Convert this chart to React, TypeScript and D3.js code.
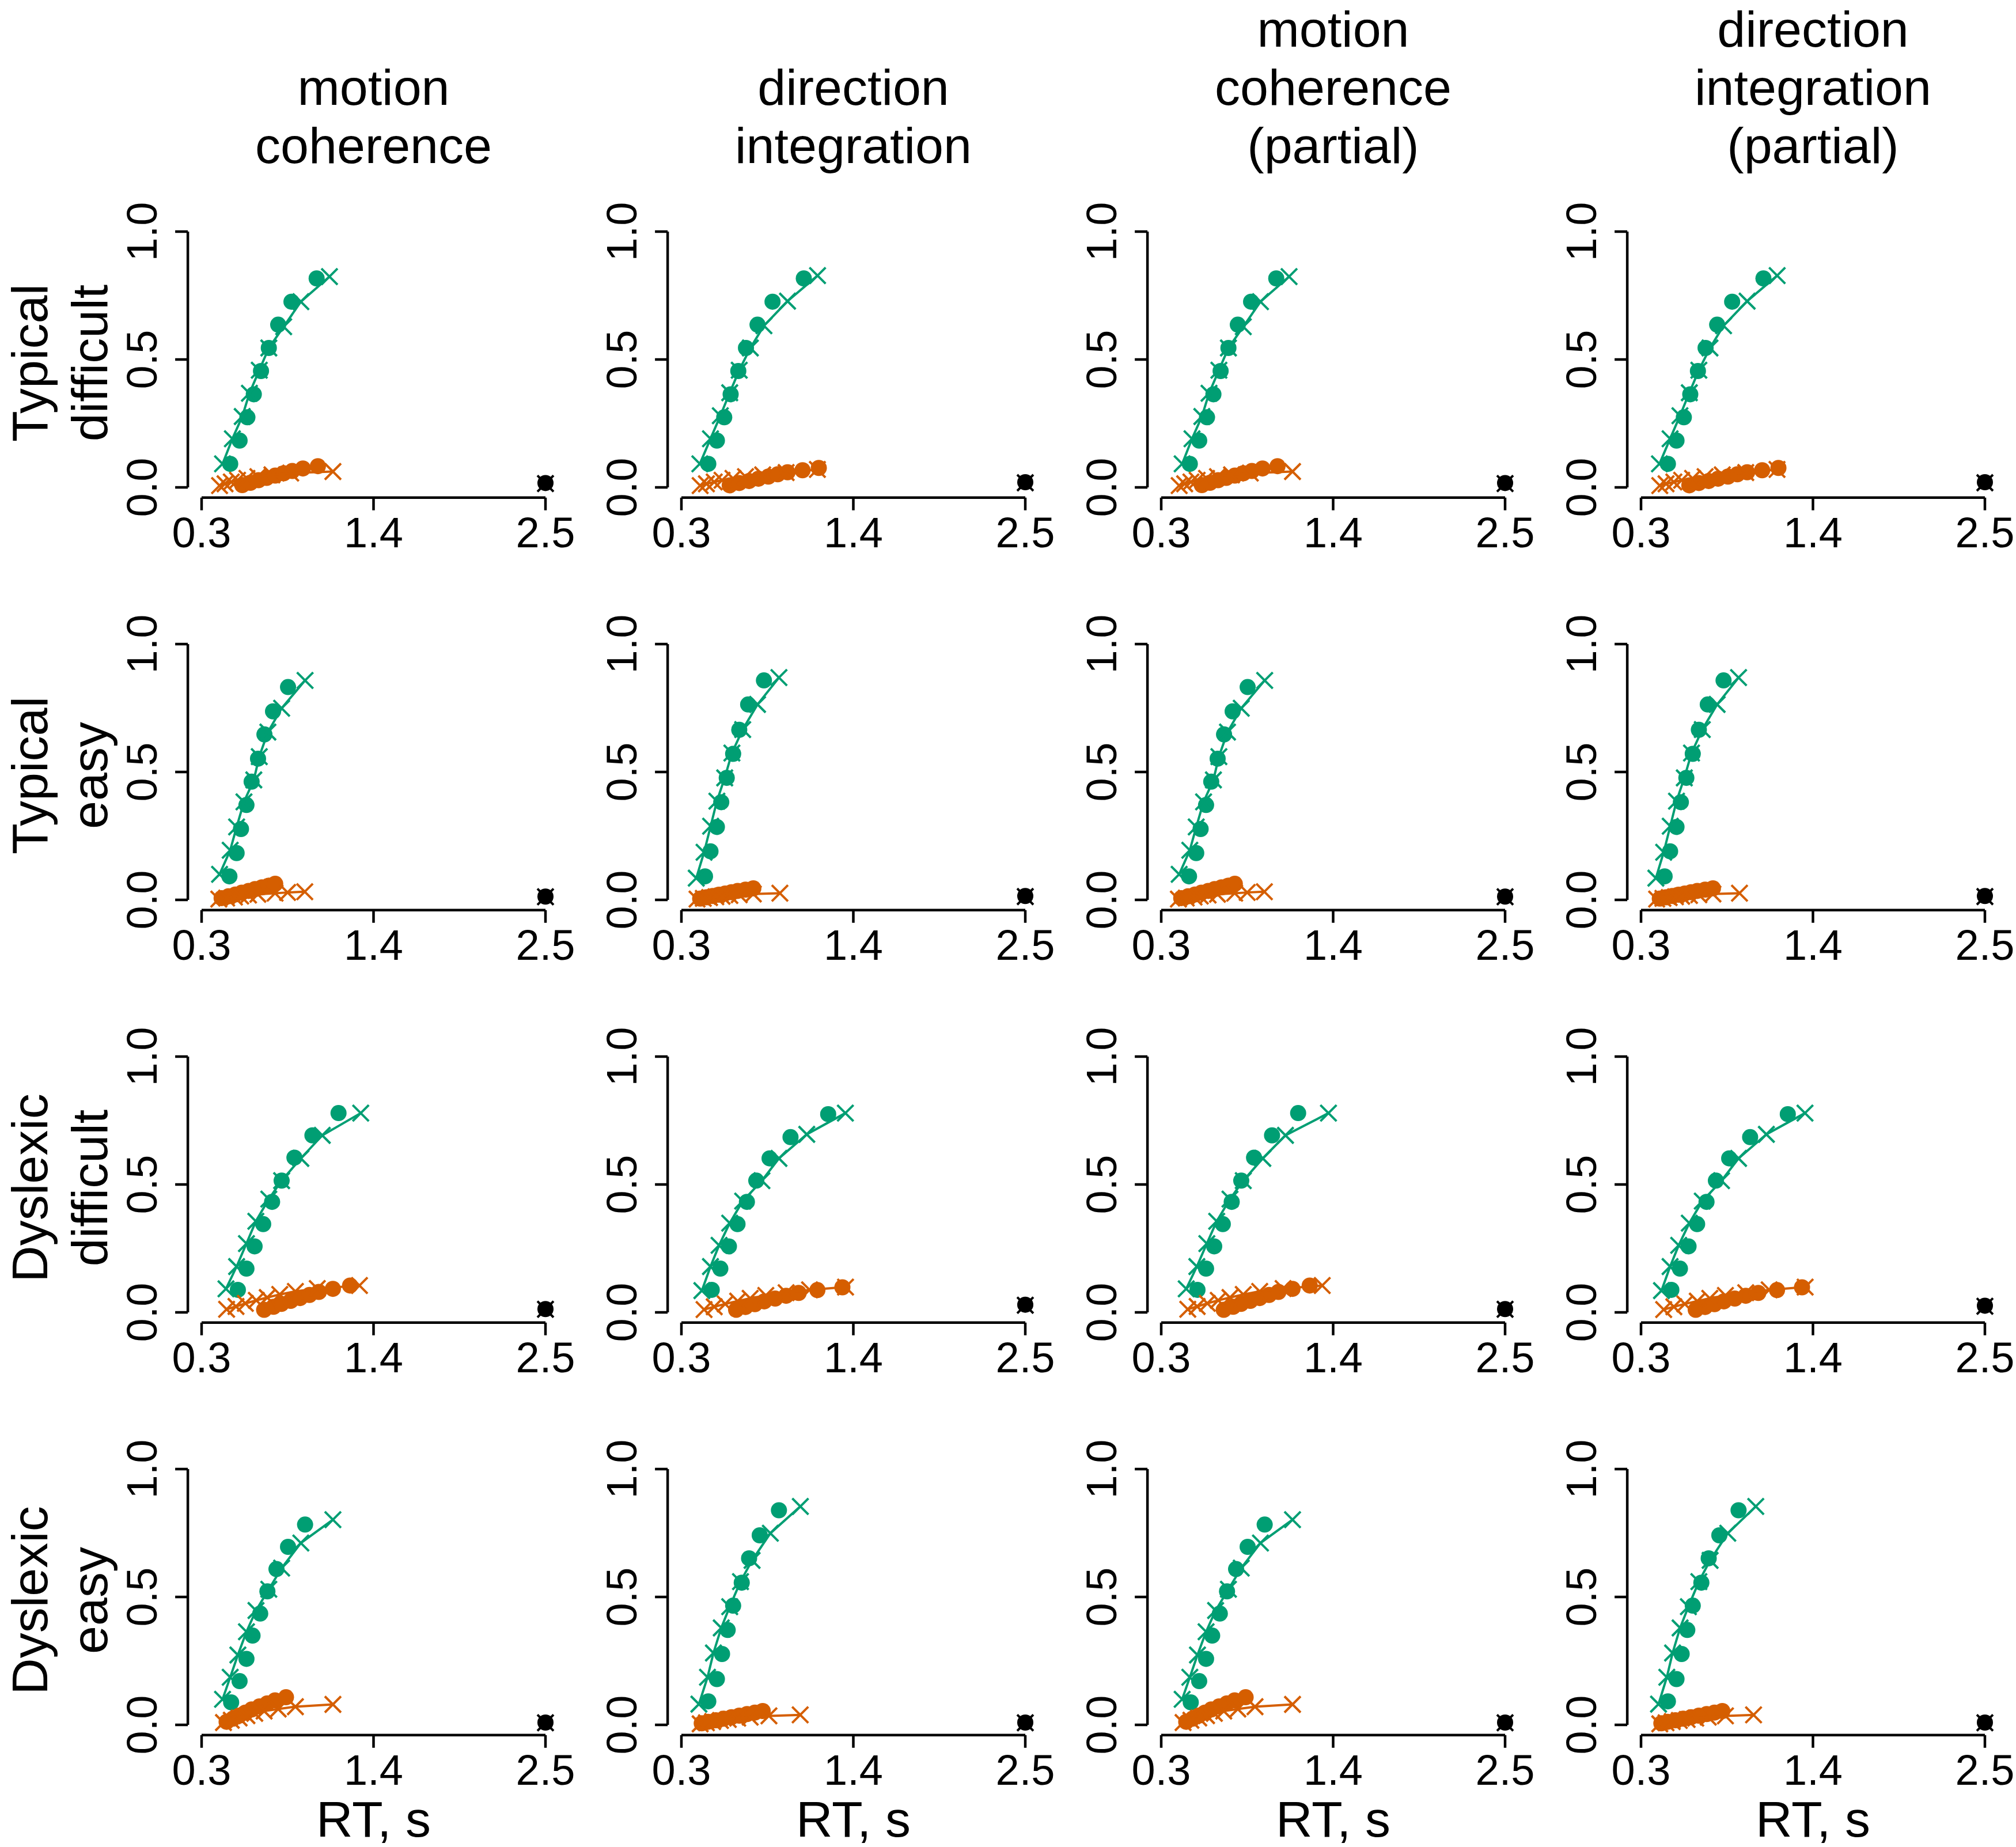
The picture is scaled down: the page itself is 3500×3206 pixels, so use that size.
import React from 'react';
import * as d3 from 'd3';

type Pt = [number, number];

const W = 3500;
const H = 3206;
const GREEN = '#009E73';
const ORANGE = '#D55E00';
const FONT = '"Liberation Sans", Arial, Helvetica, sans-serif';

const rowLabels: string[][] = [
  ['Typical', 'difficult'],
  ['Typical', 'easy'],
  ['Dyslexic', 'difficult'],
  ['Dyslexic', 'easy'],
];
const colTitles: string[][] = [
  ['motion', 'coherence'],
  ['direction', 'integration'],
  ['motion', 'coherence', '(partial)'],
  ['direction', 'integration', '(partial)'],
];
const xTicks = [0.3, 1.4, 2.5];
const yTicks = [0, 0.5, 1];
const xLabel = 'RT, s';
const deadline = 2.5;

// ---------- Typical, difficult ----------
const TD_MC_corrObs: Pt[] = [[0.483,0.092],[0.543,0.183],[0.593,0.274],[0.634,0.364],[0.680,0.455],[0.730,0.545],[0.790,0.636],[0.875,0.726],[1.036,0.817]];
const TD_MC_corrMod: Pt[] = [[0.434,0.092],[0.497,0.190],[0.560,0.277],[0.606,0.368],[0.669,0.458],[0.730,0.545],[0.825,0.628],[0.935,0.726],[1.118,0.824]];
const TD_MC_errObs: Pt[] = [[0.560,0.009],[0.612,0.018],[0.664,0.028],[0.716,0.037],[0.771,0.046],[0.825,0.055],[0.880,0.064],[0.948,0.074],[1.044,0.083]];
const TD_MC_errMod: Pt[] = [[0.415,0.007],[0.450,0.014],[0.490,0.021],[0.530,0.028],[0.590,0.035],[0.660,0.042],[0.750,0.049],[0.870,0.056],[1.140,0.062]];
const TD_MC_noResp: Pt = [0.017, 0.015];

const TD_DI_corrObs: Pt[] = [[0.472,0.092],[0.527,0.183],[0.574,0.274],[0.615,0.364],[0.664,0.455],[0.713,0.545],[0.787,0.636],[0.883,0.726],[1.083,0.817]];
const TD_DI_corrMod: Pt[] = [[0.418,0.092],[0.486,0.190],[0.549,0.280],[0.609,0.370],[0.670,0.458],[0.741,0.545],[0.828,0.632],[0.979,0.728],[1.171,0.828]];
const TD_DI_errObs: Pt[] = [[0.609,0.008],[0.670,0.017],[0.733,0.025],[0.793,0.034],[0.856,0.042],[0.916,0.051],[0.979,0.059],[1.075,0.067],[1.179,0.076]];
const TD_DI_errMod: Pt[] = [[0.420,0.007],[0.460,0.014],[0.510,0.021],[0.560,0.028],[0.630,0.035],[0.710,0.042],[0.820,0.049],[0.970,0.058],[1.170,0.070]];
const TD_DI_noResp: Pt = [0.020, 0.018];

// ---------- Typical, easy ----------
const TE_MC_corrObs: Pt[] = [[0.478,0.092],[0.524,0.183],[0.552,0.277],[0.587,0.371],[0.620,0.462],[0.661,0.552],[0.702,0.647],[0.757,0.737],[0.853,0.832]];
const TE_MC_corrMod: Pt[] = [[0.415,0.100],[0.483,0.194],[0.524,0.285],[0.571,0.383],[0.634,0.469],[0.669,0.560],[0.724,0.656],[0.812,0.749],[0.962,0.858]];
const TE_MC_errObs: Pt[] = [[0.428,0.007],[0.472,0.014],[0.516,0.021],[0.557,0.028],[0.601,0.035],[0.642,0.042],[0.686,0.049],[0.730,0.056],[0.771,0.063]];
const TE_MC_errMod: Pt[] = [[0.410,0.003],[0.460,0.007],[0.510,0.011],[0.550,0.015],[0.600,0.019],[0.660,0.022],[0.770,0.026],[0.850,0.029],[0.960,0.032]];
const TE_MC_noResp: Pt = [0.013, 0.012];

const TE_DI_corrObs: Pt[] = [[0.451,0.092],[0.486,0.190],[0.527,0.285],[0.555,0.382],[0.590,0.477],[0.631,0.571],[0.670,0.665],[0.727,0.764],[0.828,0.858]];
const TE_DI_corrMod: Pt[] = [[0.395,0.085],[0.445,0.186],[0.487,0.288],[0.527,0.386],[0.577,0.477],[0.623,0.574],[0.692,0.666],[0.787,0.764],[0.924,0.869]];
const TE_DI_errObs: Pt[] = [[0.420,0.005],[0.460,0.010],[0.500,0.015],[0.540,0.020],[0.580,0.025],[0.620,0.030],[0.660,0.035],[0.710,0.040],[0.760,0.045]];
const TE_DI_errMod: Pt[] = [[0.400,0.003],[0.440,0.006],[0.480,0.009],[0.520,0.012],[0.560,0.014],[0.610,0.017],[0.670,0.020],[0.760,0.023],[0.930,0.026]];
const TE_DI_noResp: Pt = [0.015, 0.013];

// ---------- Dyslexic, difficult ----------
const DD_MC_corrObs: Pt[] = [[0.532,0.088],[0.587,0.171],[0.639,0.258],[0.694,0.345],[0.751,0.432],[0.812,0.515],[0.894,0.605],[1.009,0.692],[1.176,0.779]];
const DD_MC_corrMod: Pt[] = [[0.456,0.092],[0.524,0.179],[0.587,0.269],[0.647,0.356],[0.730,0.443],[0.812,0.515],[0.935,0.602],[1.072,0.692],[1.318,0.779]];
const DD_MC_errObs: Pt[] = [[0.700,0.010],[0.760,0.022],[0.810,0.033],[0.870,0.045],[0.930,0.056],[0.990,0.068],[1.050,0.080],[1.140,0.092],[1.250,0.105]];
const DD_MC_errMod: Pt[] = [[0.460,0.012],[0.520,0.023],[0.580,0.035],[0.650,0.047],[0.720,0.058],[0.800,0.070],[0.900,0.082],[1.040,0.093],[1.310,0.105]];
const DD_MC_noResp: Pt = [0.013, 0.012];

const DD_DI_corrObs: Pt[] = [[0.494,0.088],[0.549,0.171],[0.604,0.258],[0.659,0.345],[0.719,0.432],[0.779,0.515],[0.864,0.602],[0.998,0.685],[1.239,0.775]];
const DD_DI_corrMod: Pt[] = [[0.431,0.085],[0.486,0.179],[0.541,0.262],[0.609,0.349],[0.692,0.435],[0.815,0.515],[0.924,0.602],[1.102,0.696],[1.349,0.779]];
const DD_DI_errObs: Pt[] = [[0.650,0.010],[0.710,0.021],[0.770,0.032],[0.830,0.043],[0.900,0.054],[0.970,0.065],[1.050,0.076],[1.170,0.087],[1.330,0.098]];
const DD_DI_errMod: Pt[] = [[0.445,0.011],[0.510,0.022],[0.580,0.033],[0.660,0.044],[0.740,0.055],[0.840,0.066],[0.970,0.077],[1.120,0.088],[1.350,0.099]];
const DD_DI_noResp: Pt = [0.030, 0.028];

// ---------- Dyslexic, easy ----------
const DE_MC_corrObs: Pt[] = [[0.489,0.088],[0.543,0.171],[0.587,0.258],[0.626,0.349],[0.675,0.435],[0.721,0.522],[0.779,0.609],[0.853,0.696],[0.962,0.783]];
const DE_MC_corrMod: Pt[] = [[0.434,0.100],[0.483,0.186],[0.532,0.273],[0.587,0.364],[0.648,0.447],[0.730,0.530],[0.812,0.613],[0.935,0.711],[1.140,0.802]];
const DE_MC_errObs: Pt[] = [[0.460,0.012],[0.500,0.024],[0.540,0.036],[0.580,0.048],[0.620,0.060],[0.670,0.072],[0.720,0.084],[0.770,0.096],[0.840,0.108]];
const DE_MC_errMod: Pt[] = [[0.440,0.009],[0.490,0.018],[0.540,0.027],[0.590,0.036],[0.640,0.045],[0.700,0.054],[0.790,0.062],[0.900,0.071],[1.140,0.080]];
const DE_MC_noResp: Pt = [0.009, 0.008];

const DE_DI_corrObs: Pt[] = [[0.472,0.092],[0.527,0.179],[0.560,0.277],[0.596,0.371],[0.631,0.466],[0.686,0.556],[0.733,0.651],[0.801,0.741],[0.924,0.839]];
const DE_DI_corrMod: Pt[] = [[0.412,0.081],[0.467,0.186],[0.505,0.281],[0.555,0.379],[0.609,0.462],[0.678,0.560],[0.752,0.643],[0.869,0.749],[1.061,0.854]];
const DE_DI_errObs: Pt[] = [[0.430,0.006],[0.470,0.012],[0.520,0.018],[0.570,0.024],[0.620,0.030],[0.670,0.036],[0.720,0.042],[0.770,0.048],[0.820,0.054]];
const DE_DI_errMod: Pt[] = [[0.420,0.004],[0.460,0.008],[0.500,0.013],[0.550,0.017],[0.600,0.021],[0.660,0.026],[0.740,0.030],[0.860,0.035],[1.060,0.039]];
const DE_DI_noResp: Pt = [0.009, 0.008];

// ---------- partial-model fits (observed data shared with full panels) ----------
const DD_MC_P_corrMod: Pt[] = [[0.460,0.092],[0.528,0.179],[0.592,0.269],[0.655,0.356],[0.740,0.443],[0.825,0.515],[0.950,0.602],[1.095,0.692],[1.370,0.779]];
const DD_MC_P_errMod: Pt[] = [[0.470,0.012],[0.530,0.023],[0.595,0.035],[0.665,0.047],[0.740,0.058],[0.825,0.070],[0.930,0.082],[1.080,0.093],[1.330,0.105]];
const DD_MC_P_noResp: Pt = [0.026, 0.024];
const DE_DI_P_corrMod: Pt[] = [[0.412,0.081],[0.465,0.186],[0.502,0.281],[0.550,0.379],[0.603,0.462],[0.670,0.560],[0.742,0.643],[0.855,0.749],[1.034,0.854]];
const DE_DI_P_errMod: Pt[] = [[0.420,0.004],[0.460,0.008],[0.500,0.013],[0.545,0.017],[0.595,0.021],[0.650,0.026],[0.730,0.030],[0.840,0.035],[1.020,0.039]];

type PanelData = { corrObs: Pt[]; corrMod: Pt[]; errObs: Pt[]; errMod: Pt[]; noResp: Pt };

const panels: PanelData[][] = [
  [
    { corrObs: TD_MC_corrObs, corrMod: TD_MC_corrMod, errObs: TD_MC_errObs, errMod: TD_MC_errMod, noResp: TD_MC_noResp },
    { corrObs: TD_DI_corrObs, corrMod: TD_DI_corrMod, errObs: TD_DI_errObs, errMod: TD_DI_errMod, noResp: TD_DI_noResp },
    { corrObs: TD_MC_corrObs, corrMod: TD_MC_corrMod, errObs: TD_MC_errObs, errMod: TD_MC_errMod, noResp: TD_MC_noResp },
    { corrObs: TD_DI_corrObs, corrMod: TD_DI_corrMod, errObs: TD_DI_errObs, errMod: TD_DI_errMod, noResp: TD_DI_noResp },
  ],
  [
    { corrObs: TE_MC_corrObs, corrMod: TE_MC_corrMod, errObs: TE_MC_errObs, errMod: TE_MC_errMod, noResp: TE_MC_noResp },
    { corrObs: TE_DI_corrObs, corrMod: TE_DI_corrMod, errObs: TE_DI_errObs, errMod: TE_DI_errMod, noResp: TE_DI_noResp },
    { corrObs: TE_MC_corrObs, corrMod: TE_MC_corrMod, errObs: TE_MC_errObs, errMod: TE_MC_errMod, noResp: TE_MC_noResp },
    { corrObs: TE_DI_corrObs, corrMod: TE_DI_corrMod, errObs: TE_DI_errObs, errMod: TE_DI_errMod, noResp: TE_DI_noResp },
  ],
  [
    { corrObs: DD_MC_corrObs, corrMod: DD_MC_corrMod, errObs: DD_MC_errObs, errMod: DD_MC_errMod, noResp: DD_MC_noResp },
    { corrObs: DD_DI_corrObs, corrMod: DD_DI_corrMod, errObs: DD_DI_errObs, errMod: DD_DI_errMod, noResp: DD_DI_noResp },
    { corrObs: DD_MC_corrObs, corrMod: DD_MC_P_corrMod, errObs: DD_MC_errObs, errMod: DD_MC_P_errMod, noResp: DD_MC_noResp },
    { corrObs: DD_DI_corrObs, corrMod: DD_DI_corrMod, errObs: DD_DI_errObs, errMod: DD_DI_errMod, noResp: DD_MC_P_noResp },
  ],
  [
    { corrObs: DE_MC_corrObs, corrMod: DE_MC_corrMod, errObs: DE_MC_errObs, errMod: DE_MC_errMod, noResp: DE_MC_noResp },
    { corrObs: DE_DI_corrObs, corrMod: DE_DI_corrMod, errObs: DE_DI_errObs, errMod: DE_DI_errMod, noResp: DE_DI_noResp },
    { corrObs: DE_MC_corrObs, corrMod: DE_MC_corrMod, errObs: DE_MC_errObs, errMod: DE_MC_errMod, noResp: DE_MC_noResp },
    { corrObs: DE_DI_corrObs, corrMod: DE_DI_P_corrMod, errObs: DE_DI_errObs, errMod: DE_DI_P_errMod, noResp: DE_DI_noResp },
  ],
];

// layout
const COL_STEP = 833;
const ROW_STEP = 716;
const X0 = 350, X1 = 947; // pixel positions of 0.3 and 2.5 in first column
const Y0 = 846, Y1 = 402; // pixel positions of 0 and 1 in first row
const TICK = 22;
const AX_LW = 4.5;
const PT_R = 14;
const CROSS = 14;
const TICK_FS = 74;
const LAB_FS = 88;

function crossPath(cx: number, cy: number, s: number) {
  return `M${cx - s},${cy - s}L${cx + s},${cy + s}M${cx - s},${cy + s}L${cx + s},${cy - s}`;
}

function Panel({ r, c, d }: { r: number; c: number; d: PanelData }) {
  const ox = COL_STEP * c;
  const oy = ROW_STEP * r;
  const x = d3.scaleLinear().domain([0.3, 2.5]).range([X0 + ox, X1 + ox]);
  const y = d3.scaleLinear().domain([0, 1]).range([Y0 + oy, Y1 + oy]);
  const line = d3.line<Pt>().x((p) => x(p[0])).y((p) => y(p[1]));
  const axX = x(0.3 - 0.04 * 2.2);
  const axY = y(-0.04);

  const series = [
    { obs: d.corrObs, mod: d.corrMod, col: GREEN },
    { obs: d.errObs, mod: d.errMod, col: ORANGE },
  ];

  return (
    <g>
      {/* y axis */}
      <line x1={axX} x2={axX} y1={y(0)} y2={y(1)} stroke="#000" strokeWidth={AX_LW} />
      {yTicks.map((t) => (
        <g key={'y' + t}>
          <line x1={axX - TICK} x2={axX} y1={y(t)} y2={y(t)} stroke="#000" strokeWidth={AX_LW} />
          <text
            transform={`translate(${axX - 54},${y(t)}) rotate(-90)`}
            textAnchor="middle"
            fontSize={TICK_FS}
            fontFamily={FONT}
          >
            {t.toFixed(1)}
          </text>
        </g>
      ))}
      {/* x axis */}
      <line x1={x(0.3)} x2={x(2.5)} y1={axY} y2={axY} stroke="#000" strokeWidth={AX_LW} />
      {xTicks.map((t) => (
        <g key={'x' + t}>
          <line x1={x(t)} x2={x(t)} y1={axY} y2={axY + TICK} stroke="#000" strokeWidth={AX_LW} />
          <text x={x(t)} y={axY + 86} textAnchor="middle" fontSize={TICK_FS} fontFamily={FONT}>
            {t.toFixed(1)}
          </text>
        </g>
      ))}
      {/* data */}
      {series.map((s, i) => (
        <g key={'s' + i}>
          {s.obs.map((p, j) => (
            <circle key={'o' + j} cx={x(p[0])} cy={y(p[1])} r={PT_R} fill={s.col} />
          ))}
          <path d={line(s.mod) || ''} fill="none" stroke={s.col} strokeWidth={4} />
          {s.mod.map((p, j) => (
            <path key={'m' + j} d={crossPath(x(p[0]), y(p[1]), CROSS)} stroke={s.col} strokeWidth={4} fill="none" />
          ))}
        </g>
      ))}
      {/* non-responses at the deadline */}
      <circle cx={x(deadline)} cy={y(d.noResp[0])} r={PT_R} fill="#000" />
      <path d={crossPath(x(deadline), y(d.noResp[1]), CROSS)} stroke="#000" strokeWidth={4} fill="none" />
    </g>
  );
}

export default function App() {
  const xMid = (c: number) => (X0 - 24 + X1 + 24) / 2 + COL_STEP * c;
  const yMid = (r: number) => (Y0 + 18 + Y1 - 18) / 2 + ROW_STEP * r + 6;
  return (
    <svg
      width={W}
      height={H}
      viewBox={`0 0 ${W} ${H}`}
      style={{ position: 'absolute', left: 0, top: 0, display: 'block', background: '#fff' }}
    >
      <rect width={W} height={H} fill="#fff" />
      {colTitles.map((lines, c) => (
        <g key={'t' + c}>
          {lines.map((s, k) => (
            <text
              key={k}
              x={xMid(c)}
              y={283 - (lines.length - 1 - k) * 101}
              textAnchor="middle"
              fontSize={LAB_FS}
              fontFamily={FONT}
            >
              {s}
            </text>
          ))}
        </g>
      ))}
      {rowLabels.map((lines, r) => (
        <g key={'r' + r}>
          {lines.map((s, k) => (
            <text
              key={k}
              transform={`translate(${82 + k * 104},${yMid(r)}) rotate(-90)`}
              textAnchor="middle"
              fontSize={LAB_FS}
              fontFamily={FONT}
            >
              {s}
            </text>
          ))}
        </g>
      ))}
      {panels.map((row, r) => row.map((d, c) => <Panel key={`${r}-${c}`} r={r} c={c} d={d} />))}
      {colTitles.map((_, c) => (
        <text key={'xl' + c} x={xMid(c)} y={3188} textAnchor="middle" fontSize={LAB_FS} fontFamily={FONT}>
          {xLabel}
        </text>
      ))}
    </svg>
  );
}
